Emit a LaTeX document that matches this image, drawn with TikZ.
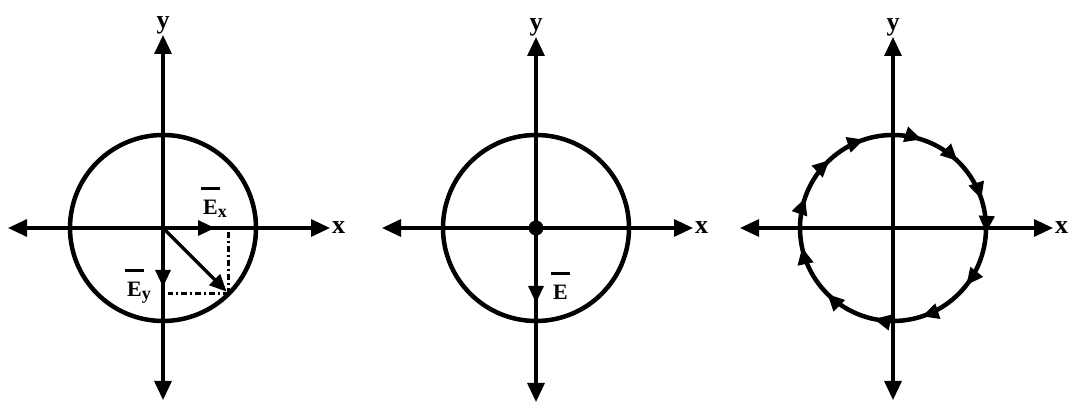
\documentclass[tikz,border=0pt]{standalone}
\usepackage{fontspec}
\setmainfont{Liberation Serif}
\usetikzlibrary{arrows.meta,positioning}
\newcommand{\barE}{\leavevmode\rlap{\hspace{-2pt}\raisebox{25pt}{\rule{19pt}{2.6pt}}}E}
\newcommand{\subsc}[1]{\raisebox{-3pt}{\fontsize{18}{20}\selectfont #1}}

\begin{document}
\begin{tikzpicture}[
      x=1pt,y=1pt,
      axis/.style={{Triangle[length=19pt,width=17pt]}-{Triangle[length=19pt,width=17pt]},line width=3.2pt},
      ring/.style={line width=4.5pt},
      vec/.style={-{Triangle[length=17pt,width=15pt]},line width=3.2pt},
      tick/.style={-{Triangle[length=17pt,width=15pt]},line width=4.5pt},
      guide/.style={dash pattern=on 6pt off 3pt on 2pt off 3pt,line width=2.6pt},
      lbl/.style={font=\fontsize{26}{30}\selectfont\bfseries,inner sep=1pt},
      elbl/.style={font=\fontsize{22}{26}\selectfont\bfseries,inner sep=0pt,anchor=base west}
    ]
      \useasboundingbox (0,0) rectangle (1071,409);
      % origins and axis tips
      \coordinate (o1) at (163,181);
      \coordinate (o2) at (536,181);
      \coordinate (o3) at (893,181);
      \coordinate (l1) at (8,181);   \coordinate (r1) at (330,181);
      \coordinate (t1) at (163,374); \coordinate (b1) at (163,9);
      \coordinate (l2) at (382,181); \coordinate (r2) at (693,181);
      \coordinate (t2) at (536,372); \coordinate (b2) at (536,7);
      \coordinate (l3) at (740,181); \coordinate (r3) at (1053,181);
      \coordinate (t3) at (893,372); \coordinate (b3) at (893,9);
      % axes
      \draw[axis] (l1) -- (r1);
      \draw[axis] (b1) -- (t1);
      \draw[axis] (l2) -- (r2);
      \draw[axis] (b2) -- (t2);
      \draw[axis] (l3) -- (r3);
      \draw[axis] (b3) -- (t3);
      \node[lbl,above=0pt of t1] (y1) {y};
      \node[lbl,right=1pt of r1] (x1) {x};
      \node[lbl,above=0pt of t2] (y2) {y};
      \node[lbl,right=1pt of r2] (x2) {x};
      \node[lbl,above=0pt of t3] (y3) {y};
      \node[lbl,right=1pt of r3] (x3) {x};
      % circles
      \draw[ring] (o1) circle (93);
      \draw[ring] (o2) circle (93);
      \draw[ring] (o3) circle (93);
      % first: components
      \coordinate (p1) at ([shift={(-45:93)}]o1);
      \coordinate (ex) at (215,181);
      \coordinate (ey) at (163,122);
      \draw[guide] (p1) -- (p1 |- o1);
      \draw[guide] (p1) -- ([xshift=5pt]p1 -| o1);
      \draw[vec] (o1) -- (ex);
      \draw[vec] (o1) -- (ey);
      \draw[vec,shorten >=3pt] (o1) -- (p1);
      \node[elbl] (exl) at (203,194) {\barE\subsc{x}};
      \node[elbl] (eyl) at (127,112) {\barE\subsc{y}};
      % second: fixed vector
      \coordinate (e2) at (536,106);
      \fill (o2) circle (7.5);
      \draw[vec] (o2) -- (e2);
      \node[elbl] (e2l) at (553,109) {\barE};
      % third: clockwise ring
      \foreach \a in {108,72,46,18,-3,-38,-72,-102,-135,-168,161,133}
        \draw[tick] ([shift={(\a+10:93)}]o3) arc[start angle=\a+10,end angle=\a,radius=93];
    \end{tikzpicture}
\end{document}
